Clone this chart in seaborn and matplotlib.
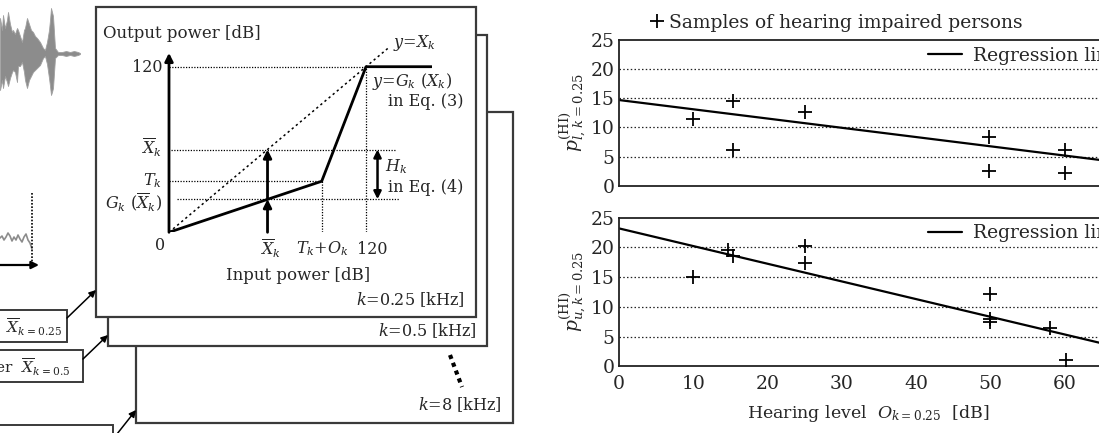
import matplotlib.pyplot as plt
import matplotlib.patches as mpatches
from matplotlib.lines import Line2D
import seaborn as sns

# ---- data ----
# samples of hearing impaired persons (hearing level O_k=0.25 [dB] -> parameter)
HEARING_L = [10.0, 15.4, 15.4, 25.0, 49.8, 49.8, 60.1, 60.1]
P_LOWER = [11.4, 14.6, 6.2, 12.6, 8.4, 2.6, 6.2, 2.2]
HEARING_U = [10.0, 14.7, 15.4, 25.0, 25.0, 49.9, 49.9, 49.9, 58.0, 60.2]
P_UPPER = [15.1, 19.6, 18.6, 20.2, 17.4, 12.1, 8.0, 7.5, 6.4, 1.1]

# regression lines, end points at x = 0 and x = 80
REG_X = [0, 80]
REG_LOWER = [14.7, 2.0]
REG_UPPER = [23.2, -0.6]

X_TICKS = [0, 10, 20, 30, 40, 50, 60, 70, 80]
Y_TICKS = [0, 5, 10, 15, 20, 25]
GRID_LEVELS = [5, 10, 15, 20]

# input/output curve of the compressor [dB]
GAIN_IN = [0, 93, 120, 160]
GAIN_OUT = [0, 37, 120, 120]
IDENT = [0, 134]
LEVEL_MAX = 120
X_BAR = 60
T_K = 37
T_K_O_K = 93
G_X_BAR = 24

# speech waveform envelope (pixel rows of upper / lower edge)
WAVE_X = [0, 2, 3, 5, 7, 8, 10, 12, 13, 15, 17, 18, 20, 22, 24, 25, 27, 29, 31,
          33, 35, 37, 40, 43, 45, 47, 49, 50, 51, 52, 53, 55, 58, 62, 66, 70, 74, 78, 80]
WAVE_HI = [18, 30, 15, 28, 20, 12, 24, 32, 30, 34, 28, 30, 36, 42, 30, 28, 18, 24, 30,
           32, 36, 38, 42, 48, 50, 42, 30, 20, 8, 12, 16, 48, 52, 52, 51, 52, 51, 52, 53]
WAVE_LO = [90, 80, 88, 76, 82, 86, 78, 72, 70, 72, 82, 66, 66, 62, 72, 80, 88, 80, 76,
           72, 70, 68, 65, 58, 56, 64, 78, 86, 95, 92, 88, 58, 55, 55, 56, 55, 56, 55, 54]
SMALL_X = [0, 2, 4, 6, 8, 10, 12, 14, 16, 18, 20, 22, 24, 26, 28, 30, 31, 32]
SMALL_Y = [238, 236, 240, 237, 233, 236, 241, 237, 240, 235, 239, 242, 237, 234, 240, 243, 246, 249]

W, H = 1099, 433

sns.set_style("white")
plt.rcParams["font.family"] = ["DejaVu Serif"]
plt.rcParams["mathtext.fontset"] = "dejavuserif"

fig = plt.figure(figsize=(W / 100, H / 100), dpi=100)

# ---- block diagram canvas in pixel units ----
cv = fig.add_axes([0, 0, 1, 1])
cv.set_xlim(0, W)
cv.set_ylim(H, 0)
cv.axis("off")

edge = "#3a3a3a"
fill_kw = dict(lw=1.6, edgecolor=edge, facecolor="white")
cv.add_patch(mpatches.Rectangle((136, 112), 377, 311, zorder=1, **fill_kw))
cv.add_patch(mpatches.Rectangle((108, 35), 379, 311, zorder=2, **fill_kw))
cv.add_patch(mpatches.Rectangle((96, 7), 380, 310, zorder=3, **fill_kw))

cv.text(465, 300, "$k$=0.25 [kHz]", ha="right", va="center", fontsize=11.5, zorder=4)
cv.text(477, 331, "$k$=0.5 [kHz]", ha="right", va="center", fontsize=11.5, zorder=4)
cv.text(502, 405, "$k$=8 [kHz]", ha="right", va="center", fontsize=11.5, zorder=4)
cv.plot([450, 462], [355, 387], ls=(0, (1, 1)), lw=3, color="black")

# filter output boxes on the left (cut by the figure edge)
box_kw = dict(lw=1.4, edgecolor=edge, facecolor="white")
cv.add_patch(mpatches.Rectangle((-10, 310), 77, 32, **box_kw))
cv.add_patch(mpatches.Rectangle((-10, 350), 93, 32, **box_kw))
cv.add_patch(mpatches.Rectangle((-10, 425), 123, 20, **box_kw))
cv.text(62, 327, "Power of filter  $\\overline{X}_{k=0.25}$", ha="right", va="center", fontsize=11)
cv.text(70, 367, "Power of filter  $\\overline{X}_{k=0.5}$", ha="right", va="center", fontsize=11)

arrow_kw = dict(arrowstyle="-|>", color="black", lw=1.1, mutation_scale=10, shrinkA=0, shrinkB=0)
cv.annotate("", xy=(96, 290), xytext=(67, 318), arrowprops=arrow_kw)
cv.annotate("", xy=(108, 335), xytext=(83, 359), arrowprops=arrow_kw)
cv.annotate("", xy=(136, 410), xytext=(117, 434), arrowprops=arrow_kw)

# speech waveform and its power envelope
cv.fill_between(WAVE_X, WAVE_HI, WAVE_LO, color="#8c8c8c", lw=0.6, edgecolor="#a0a0a0")
cv.plot(SMALL_X, SMALL_Y, color="#8c8c8c", lw=1.2)
cv.plot([32, 32], [193, 265], ls=(0, (1, 1)), color="black", lw=1.2)
cv.annotate("", xy=(39, 265), xytext=(0, 265), arrowprops=dict(arrowstyle="-|>", color="black",
            lw=1.6, mutation_scale=11, shrinkA=0, shrinkB=0))

# ---- input/output curve inside the front panel ----
io = fig.add_axes([169 / W, (H - 232.3) / H, 262.7 / W, 193.2 / H], zorder=2)
io.set_xlim(0, 160)
io.set_ylim(0, 140)
io.axis("off")
io.patch.set_alpha(0)

dot = dict(color="black", lw=0.9, ls=(0, (1, 1.2)))
io.plot(IDENT, IDENT, color="black", lw=1.1, ls=(0, (1.5, 2)))
io.hlines(LEVEL_MAX, 0, LEVEL_MAX, **dot)
io.hlines(X_BAR, 1, 138, **dot)
io.hlines(T_K, 0, T_K_O_K, **dot)
io.hlines(G_X_BAR, 5, 140, **dot)
io.vlines(T_K_O_K, 0, T_K, **dot)
io.vlines(LEVEL_MAX, 0, LEVEL_MAX, **dot)
sns.lineplot(x=GAIN_IN, y=GAIN_OUT, color="black", lw=2, ax=io)

ax_arrow = dict(arrowstyle="-|>", color="black", lw=2, mutation_scale=12, shrinkA=0, shrinkB=0)
io.annotate("", xy=(161, 0), xytext=(0, 0), arrowprops=ax_arrow)
io.annotate("", xy=(0, 130), xytext=(0, 0), arrowprops=ax_arrow)
io.annotate("", xy=(X_BAR, G_X_BAR), xytext=(X_BAR, 0), arrowprops=ax_arrow)
io.annotate("", xy=(X_BAR, X_BAR), xytext=(X_BAR, G_X_BAR), arrowprops=ax_arrow)
io.annotate("", xy=(127, X_BAR), xytext=(127, G_X_BAR),
            arrowprops=dict(arrowstyle="<|-|>", color="black", lw=1.8, mutation_scale=11,
                            shrinkA=0, shrinkB=0))

fs = 11.5
cv.text(103, 33, "Output power [dB]", ha="left", va="center", fontsize=12, zorder=4)
cv.text(298, 275, "Input power [dB]", ha="center", va="center", fontsize=12, zorder=4)
cv.text(162, 67, "120", ha="right", va="center", fontsize=fs, zorder=4)
cv.text(162, 148, "$\\overline{X}_k$", ha="right", va="center", fontsize=fs, zorder=4)
cv.text(162, 181, "$T_k$", ha="right", va="center", fontsize=fs, zorder=4)
cv.text(162, 203, "$G_k$ ($\\overline{X}_k$)", ha="right", va="center", fontsize=fs, zorder=4)
cv.text(160, 245, "0", ha="center", va="center", fontsize=fs, zorder=4)
cv.text(270, 249, "$\\overline{X}_k$", ha="center", va="center", fontsize=fs, zorder=4)
cv.text(322, 249, "$T_k$+$O_k$", ha="center", va="center", fontsize=fs, zorder=4)
cv.text(372, 249, "120", ha="center", va="center", fontsize=fs, zorder=4)
cv.text(393, 43, "$y$=$X_k$", ha="left", va="center", fontsize=fs, zorder=4)
cv.text(372, 82, "$y$=$G_k$ ($X_k$)", ha="left", va="center", fontsize=fs, zorder=4)
cv.text(388, 102, "in Eq. (3)", ha="left", va="center", fontsize=fs, zorder=4)
cv.text(385, 167, "$H_k$", ha="left", va="center", fontsize=fs, zorder=4)
cv.text(388, 188, "in Eq. (4)", ha="left", va="center", fontsize=fs, zorder=4)

# ---- regression scatter plots on the right (cut by the figure edge) ----
ax_l = fig.add_axes([619 / W, (H - 185.7) / H, 594 / W, 145.7 / H])
ax_u = fig.add_axes([619 / W, (H - 366.2) / H, 594 / W, 148.5 / H])

panels = [
    (ax_l, HEARING_L, P_LOWER, REG_LOWER, "$p^{(\\mathrm{HI})}_{l,\\,k=0.25}$"),
    (ax_u, HEARING_U, P_UPPER, REG_UPPER, "$p^{(\\mathrm{HI})}_{u,k=0.25}$"),
]
for ax, xs, ys, reg, ylab in panels:
    sns.scatterplot(x=xs, y=ys, marker="+", color="black", s=100, linewidth=1.3, ax=ax, zorder=3)
    sns.lineplot(x=REG_X, y=reg, color="black", lw=1.6, ax=ax)
    ax.set_xlim(0, 80)
    ax.set_ylim(0, 25)
    ax.set_xticks(X_TICKS)
    ax.set_yticks(Y_TICKS)
    for lvl in GRID_LEVELS:
        ax.axhline(lvl, color="#222222", lw=0.9, ls=(0, (1.2, 1.8)), zorder=1)
    ax.tick_params(length=0, labelsize=13.5, pad=3)
    ax.tick_params(axis="x", pad=6)
    for sp in ax.spines.values():
        sp.set_color("#222222")
        sp.set_linewidth(1.3)
    ax.set_ylabel(ylab, fontsize=13.5)
    ax.yaxis.set_label_coords(-0.05, 0.5)
    reg_handle = Line2D([], [], color="black", lw=1.6)
    ax.legend([reg_handle], ["Regression line"], loc="upper left", bbox_to_anchor=(0.52, 0.955),
              frameon=False, fontsize=13.5, handlelength=1.8, handletextpad=0.6,
              borderpad=0, borderaxespad=0)

ax_l.tick_params(labelbottom=False)
ax_u.set_xlabel("Hearing level  $O_{k=0.25}$  [dB]", fontsize=12.5)
ax_u.xaxis.set_label_coords(0.42, -0.245)

samples = Line2D([], [], color="black", marker="+", ls="none", markersize=10, markeredgewidth=1.3)
leg = ax_l.legend([samples], ["Samples of hearing impaired persons"], loc="lower left",
                  bbox_to_anchor=(0.055, 1.055), frameon=False, fontsize=13.5,
                  handlelength=0.6, handletextpad=0.3, borderpad=0, borderaxespad=0)
ax_l.add_artist(leg)
reg_handle = Line2D([], [], color="black", lw=1.6)
ax_l.legend([reg_handle], ["Regression line"], loc="upper left", bbox_to_anchor=(0.52, 0.955),
            frameon=False, fontsize=13.5, handlelength=1.8, handletextpad=0.6,
            borderpad=0, borderaxespad=0)

fig.savefig("out.png", dpi=100)
